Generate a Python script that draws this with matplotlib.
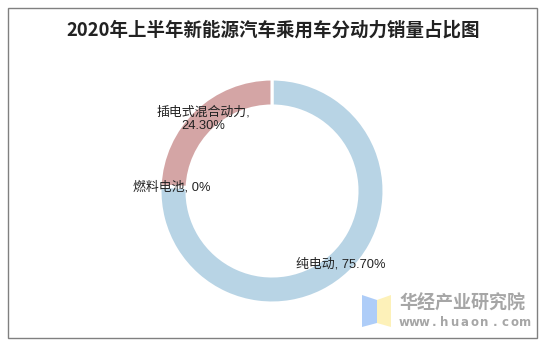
import matplotlib
matplotlib.use("Agg")
import matplotlib.pyplot as plt
import matplotlib.patches as mpatches
import numpy as np

plt.rcParams['font.family'] = ['Noto Sans CJK SC', 'DejaVu Sans']

title = "2020年上半年新能源汽车乘用车分动力销量占比图"
categories = ["纯电动", "燃料电池", "插电式混合动力"]
values = [75.70, 0.0, 24.30]
colors = ["#b8d4e5", "#b8d4e5", "#d4a5a5"]

W, H = 547, 347
fig = plt.figure(figsize=(W / 100, H / 100), dpi=100)
ax = fig.add_axes([0, 0, 1, 1])

def py(y):
    return H - y

# donut
cx, cy, r = 272, py(191), 112
ax.pie(values, colors=colors, startangle=90, counterclock=False,
       center=(cx, cy), radius=r, frame=True,
       wedgeprops=dict(width=27, edgecolor="white", linewidth=2.2))
ax.set_xlim(0, W)
ax.set_ylim(0, H)
ax.set_aspect("auto")
ax.axis("off")

# border
ax.add_patch(mpatches.Rectangle((8, py(338)), 529, 330, fill=False,
                                edgecolor="#808080", linewidth=1.0))

# title
ax.text(273, py(30), title, ha="center", va="center", fontsize=13.3,
        fontweight="bold", color="#222222")

lab_family = ['Liberation Sans', 'Noto Sans CJK SC']
# labels
ax.text(341, py(264), f"{categories[0]}, {values[0]:.2f}%", ha="center",
        va="center", fontsize=9.3, color="#222222", family=lab_family)
ax.text(172, py(187), f"{categories[1]}, {values[1]:.0f}%", ha="center",
        va="center", fontsize=9.3, color="#222222", family=lab_family)
ax.text(203, py(119), f"{categories[2]},\n{values[2]:.2f}%", ha="center",
        va="center", fontsize=9.3, color="#222222", linespacing=1.1,
        family=lab_family)

# watermark logo
ax.add_patch(mpatches.Polygon([(362, py(295)), (377, py(300)), (377, py(323)),
                               (362, py(327))], closed=True,
                              facecolor="#aecdf8", edgecolor="none"))
ax.add_patch(mpatches.Polygon([(377, py(300)), (391, py(295)), (391, py(327)),
                               (377, py(323))], closed=True,
                              facecolor="#fdf1b9", edgecolor="none"))
ax.text(463, py(303), "华经产业研究院", ha="center", va="center",
        fontsize=13, fontweight="bold", color="#a6a6a6")
url = "www.huaon.com"
for i, ch in enumerate(url):
    x = 404 + i * (121 / (len(url) - 1))
    ax.text(x, py(322), ch, ha="center", va="center", fontsize=8.5,
            fontweight="bold", color="#a6a6a6", family="DejaVu Sans")

fig.savefig("out.png", dpi=100)
